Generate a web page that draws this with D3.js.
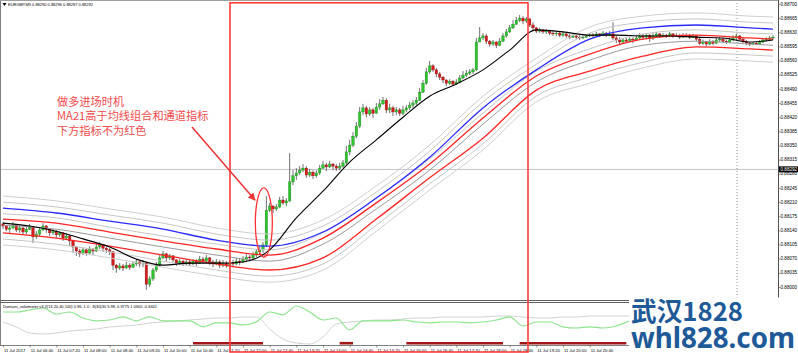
<!DOCTYPE html>
<html>
<head>
<meta charset="utf-8">
<script src="https://cdn.jsdelivr.net/npm/d3@7"></script>
<style>
  body { margin: 0; background: #fff; }
  svg { display: block; }
  .tiny { font-family: "Liberation Sans", Arial, sans-serif; fill: #000; }
</style>
</head>
<body>
<svg width="798" height="353"></svg>
<script>
// EURGBP M5, 232 bars; open of a bar = close of the bar before
var firstOpen = 0.88156;
var closes = [
0.88151,0.88143,0.88146,0.88153,0.88141,0.88146,0.88136,0.88143,0.88148,0.88124,
0.88131,0.88141,0.88151,0.88143,0.88134,0.88138,0.88129,0.88134,0.88121,0.88126,
0.88114,0.88099,0.88089,0.88082,0.88092,0.88084,0.88094,0.88089,0.88099,0.88104,
0.88096,0.88092,0.88087,0.88054,0.88047,0.88052,0.88047,0.88054,0.88049,0.88057,
0.88062,0.88057,0.88059,0.88007,0.88020,0.88042,0.88054,0.88072,0.88082,0.88072,
0.88077,0.88067,0.88059,0.88064,0.88057,0.88062,0.88057,0.88064,0.88059,0.88069,
0.88064,0.88072,0.88062,0.88057,0.88062,0.88054,0.88059,0.88054,0.88059,0.88057,
0.88064,0.88062,0.88069,0.88074,0.88072,0.88079,0.88087,0.88092,0.88104,0.88190,
0.88200,0.88193,0.88198,0.88215,0.88208,0.88213,0.88260,0.88275,0.88282,0.88289,
0.88294,0.88277,0.88284,0.88275,0.88282,0.88294,0.88302,0.88297,0.88304,0.88299,
0.88294,0.88299,0.88307,0.88334,0.88351,0.88373,0.88398,0.88433,0.88443,0.88428,
0.88438,0.88430,0.88445,0.88453,0.88462,0.88438,0.88443,0.88433,0.88438,0.88430,
0.88438,0.88443,0.88450,0.88455,0.88462,0.88482,0.88504,0.88532,0.88547,0.88537,
0.88527,0.88519,0.88512,0.88504,0.88509,0.88502,0.88507,0.88517,0.88524,0.88529,
0.88532,0.88537,0.88606,0.88616,0.88621,0.88608,0.88601,0.88606,0.88598,0.88608,
0.88621,0.88631,0.88641,0.88650,0.88660,0.88665,0.88658,0.88663,0.88648,0.88641,
0.88633,0.88636,0.88631,0.88633,0.88628,0.88626,0.88628,0.88623,0.88626,0.88621,
0.88618,0.88621,0.88618,0.88616,0.88618,0.88621,0.88623,0.88621,0.88626,0.88623,
0.88628,0.88623,0.88626,0.88616,0.88611,0.88606,0.88611,0.88608,0.88613,0.88611,
0.88616,0.88621,0.88618,0.88623,0.88616,0.88621,0.88626,0.88621,0.88623,0.88621,
0.88626,0.88621,0.88623,0.88618,0.88621,0.88623,0.88618,0.88621,0.88613,0.88603,
0.88606,0.88601,0.88608,0.88603,0.88611,0.88613,0.88608,0.88606,0.88611,0.88616,
0.88621,0.88613,0.88608,0.88603,0.88601,0.88603,0.88601,0.88606,0.88611,0.88613,
0.88616,0.88618];
var highs = [
0.88161,0.88153,0.88151,0.88161,0.88156,0.88151,0.88148,0.88151,0.88156,0.88151,
0.88138,0.88146,0.88158,0.88153,0.88146,0.88143,0.88141,0.88138,0.88136,0.88134,
0.88129,0.88116,0.88101,0.88094,0.88096,0.88094,0.88101,0.88096,0.88106,0.88111,
0.88106,0.88101,0.88096,0.88089,0.88057,0.88059,0.88057,0.88062,0.88059,0.88064,
0.88069,0.88064,0.88067,0.88062,0.88027,0.88047,0.88062,0.88079,0.88089,0.88084,
0.88082,0.88079,0.88069,0.88069,0.88067,0.88069,0.88067,0.88069,0.88069,0.88077,
0.88074,0.88079,0.88074,0.88067,0.88069,0.88067,0.88067,0.88064,0.88067,0.88067,
0.88072,0.88069,0.88077,0.88082,0.88079,0.88087,0.88094,0.88101,0.88111,0.88225,
0.88208,0.88203,0.88205,0.88223,0.88225,0.88220,0.88331,0.88289,0.88294,0.88299,
0.88304,0.88299,0.88292,0.88289,0.88289,0.88302,0.88312,0.88307,0.88312,0.88307,
0.88304,0.88307,0.88314,0.88349,0.88364,0.88383,0.88408,0.88445,0.88453,0.88448,
0.88445,0.88443,0.88455,0.88465,0.88470,0.88467,0.88453,0.88448,0.88445,0.88443,
0.88448,0.88450,0.88458,0.88462,0.88470,0.88492,0.88512,0.88542,0.88559,0.88551,
0.88542,0.88532,0.88522,0.88514,0.88514,0.88512,0.88514,0.88524,0.88534,0.88537,
0.88539,0.88542,0.88616,0.88643,0.88628,0.88626,0.88611,0.88611,0.88608,0.88616,
0.88628,0.88638,0.88648,0.88660,0.88668,0.88673,0.88670,0.88668,0.88665,0.88655,
0.88643,0.88641,0.88638,0.88638,0.88636,0.88633,0.88633,0.88631,0.88631,0.88628,
0.88626,0.88626,0.88623,0.88623,0.88623,0.88626,0.88628,0.88628,0.88631,0.88628,
0.88633,0.88631,0.88633,0.88655,0.88623,0.88618,0.88616,0.88616,0.88618,0.88618,
0.88623,0.88628,0.88626,0.88628,0.88626,0.88628,0.88631,0.88628,0.88628,0.88626,
0.88631,0.88628,0.88628,0.88626,0.88628,0.88628,0.88626,0.88626,0.88623,0.88618,
0.88611,0.88608,0.88613,0.88611,0.88616,0.88618,0.88616,0.88613,0.88618,0.88623,
0.88626,0.88623,0.88616,0.88611,0.88606,0.88606,0.88606,0.88611,0.88616,0.88618,
0.88621,0.88623];
var lows = [
0.88143,0.88138,0.88134,0.88143,0.88136,0.88134,0.88129,0.88131,0.88141,0.88109,
0.88119,0.88126,0.88138,0.88134,0.88126,0.88129,0.88121,0.88124,0.88114,0.88116,
0.88101,0.88084,0.88077,0.88074,0.88079,0.88077,0.88082,0.88079,0.88087,0.88094,
0.88087,0.88084,0.88079,0.88042,0.88035,0.88042,0.88040,0.88045,0.88042,0.88047,
0.88052,0.88049,0.88049,0.87993,0.88000,0.88015,0.88037,0.88049,0.88069,0.88064,
0.88067,0.88062,0.88052,0.88054,0.88052,0.88054,0.88052,0.88054,0.88052,0.88057,
0.88059,0.88062,0.88054,0.88049,0.88054,0.88047,0.88049,0.88047,0.88052,0.88049,
0.88054,0.88054,0.88059,0.88062,0.88064,0.88069,0.88074,0.88082,0.88084,0.88099,
0.88185,0.88183,0.88188,0.88195,0.88203,0.88200,0.88210,0.88252,0.88265,0.88277,
0.88284,0.88270,0.88272,0.88267,0.88270,0.88277,0.88292,0.88287,0.88294,0.88289,
0.88287,0.88289,0.88294,0.88302,0.88326,0.88346,0.88368,0.88393,0.88425,0.88420,
0.88423,0.88418,0.88428,0.88438,0.88450,0.88430,0.88430,0.88423,0.88425,0.88423,
0.88425,0.88433,0.88438,0.88443,0.88450,0.88460,0.88480,0.88500,0.88527,0.88532,
0.88519,0.88512,0.88504,0.88497,0.88500,0.88497,0.88500,0.88504,0.88514,0.88519,
0.88524,0.88527,0.88534,0.88606,0.88611,0.88601,0.88594,0.88596,0.88591,0.88596,
0.88606,0.88616,0.88628,0.88638,0.88648,0.88655,0.88650,0.88653,0.88643,0.88633,
0.88628,0.88628,0.88626,0.88626,0.88623,0.88621,0.88621,0.88618,0.88618,0.88616,
0.88613,0.88616,0.88613,0.88611,0.88613,0.88616,0.88618,0.88616,0.88618,0.88618,
0.88621,0.88618,0.88621,0.88611,0.88603,0.88598,0.88601,0.88603,0.88606,0.88603,
0.88608,0.88611,0.88611,0.88613,0.88606,0.88611,0.88616,0.88616,0.88618,0.88616,
0.88618,0.88616,0.88618,0.88613,0.88616,0.88618,0.88613,0.88616,0.88608,0.88598,
0.88598,0.88596,0.88598,0.88598,0.88601,0.88606,0.88603,0.88601,0.88603,0.88608,
0.88611,0.88608,0.88601,0.88598,0.88596,0.88598,0.88598,0.88598,0.88603,0.88606,
0.88608,0.88611];

// MA21 (black), read every 8 bars
var maBars = [0,8,16,24,32,40,48,56,64,72,80,88,96,104,112,120,128,136,144,152,160,168,176,184,192,200,208,216,224,231];
var ma21 = [0.88158,0.88151,0.88138,0.88119,0.88099,0.88069,0.88054,0.88059,0.88059,0.88062,0.88092,0.88171,0.88237,0.88309,0.88364,0.88420,0.88472,0.88502,0.88537,0.88586,0.88636,0.88631,0.88623,0.88623,0.88621,0.88621,0.88618,0.88616,0.88606,0.88611];

// channel lines, read every 16 bars
var bandBars = [0,16,32,48,64,80,96,112,128,144,160,176,192,208,224,231];
var blueLine = [0.88195,0.88183,0.88163,0.88143,0.88116,0.88101,0.88136,0.88220,0.88321,0.88443,0.88537,0.88613,0.88641,0.88648,0.88641,0.88638];
var redUpper = [0.88168,0.88158,0.88136,0.88114,0.88094,0.88079,0.88121,0.88208,0.88304,0.88418,0.88522,0.88576,0.88613,0.88623,0.88616,0.88613];
var redLower = [0.88134,0.88121,0.88101,0.88079,0.88057,0.88042,0.88072,0.88168,0.88270,0.88368,0.88487,0.88534,0.88571,0.88594,0.88589,0.88586];
var grayA = [0.88225,0.88213,0.88193,0.88173,0.88146,0.88131,0.88166,0.88250,0.88351,0.88472,0.88566,0.88643,0.88670,0.88678,0.88670,0.88668];
var grayB = [0.88210,0.88198,0.88178,0.88158,0.88131,0.88116,0.88151,0.88235,0.88336,0.88458,0.88551,0.88628,0.88655,0.88663,0.88655,0.88653];
var grayC = [0.88181,0.88171,0.88148,0.88126,0.88106,0.88092,0.88134,0.88220,0.88317,0.88430,0.88534,0.88589,0.88626,0.88636,0.88628,0.88626];
var grayMid = [0.88153,0.88143,0.88121,0.88099,0.88079,0.88064,0.88106,0.88193,0.88289,0.88403,0.88507,0.88561,0.88598,0.88608,0.88601,0.88598];
var grayE = [0.88119,0.88106,0.88087,0.88064,0.88042,0.88027,0.88057,0.88153,0.88255,0.88354,0.88472,0.88519,0.88556,0.88579,0.88574,0.88571];
var grayF = [0.88104,0.88092,0.88072,0.88049,0.88027,0.88012,0.88042,0.88138,0.88240,0.88339,0.88458,0.88504,0.88542,0.88564,0.88559,0.88556];

// lower window, read every 4 bars (+ last bar)
var volGreen = [1.25,1.25,1.30,1.35,1.20,1.25,1.10,1.03,1.05,1.13,1.03,1.13,1.03,1.03,1.03,0.88,0.98,0.98,0.93,1.00,1.25,1.18,1.40,1.25,1.05,1.10,0.80,1.03,1.03,1.03,1.05,1.00,0.98,1.00,1.00,0.98,1.00,1.05,1.13,0.90,1.00,1.00,0.88,0.85,0.88,0.85,0.90,1.03,1.13,1.20,1.25,1.23,1.28,1.23,1.25,1.20,1.25,1.23,1.25];
var volGray = [1.00,0.875,0.725,0.70,0.725,0.775,0.80,0.825,0.875,0.90,0.925,0.975,1.00,1.025,1.05,1.075,1.10,1.10,1.125,1.125,0.825,0.575,0.475,0.45,0.625,0.95,1.00,1.025,1.05,1.05,1.075,1.10,1.10,1.125,1.125,1.125,1.125,1.15,1.15,1.125,1.10,1.10,1.125,1.125,1.15,1.15,1.15,1.15,1.15,1.15,1.15,1.15,1.125,1.125,1.125,1.125,1.125,1.125,1.125];
var noTrade = [[57,78],[101,105],[121,150],[155,187]];

var priceTicks = [0.88700,0.88665,0.88630,0.88595,0.88560,0.88525,0.88490,0.88455,0.88420,0.88385,0.88350,0.88315,0.88280,0.88245,0.88210,0.88175,0.88140,0.88105,0.88070,0.88035,0.88000];
// labels every 8 bars; later ones are hidden by the watermark box
var timeLabels = ['11 Jul 2017','11 Jul 06:40','11 Jul 07:20','11 Jul 08:00','11 Jul 08:40','11 Jul 09:20','11 Jul 10:00','11 Jul 10:40','11 Jul 11:20','11 Jul 12:00','11 Jul 12:40','11 Jul 13:20','11 Jul 14:00','11 Jul 14:40','11 Jul 15:20','11 Jul 16:00','11 Jul 16:40','11 Jul 17:20','11 Jul 18:00','11 Jul 18:40','11 Jul 19:20','11 Jul 20:00','11 Jul 20:40'];
var bidPrice = 0.88292;
var noteLines = ['做多进场时机', 'MA21高于均线组合和通道指标', '下方指标不为红色'];

var svg = d3.select('svg');
var width = +svg.attr('width');
var height = +svg.attr('height');

var plotRight = 778, mainBottom = 300, subTop = 302, subBottom = 345;

var x = d3.scaleLinear().domain([0, 231]).range([3, 773]);
var y = d3.scaleLinear().domain([0.88000, 0.88700]).range([287, 4]);
var yv = d3.scaleLinear().domain([0.5, 1.5]).range([342, 302]);

svg.append('rect').attr('width', width).attr('height', height).attr('fill', '#fff');

var defs = svg.append('defs');
defs.append('clipPath').attr('id', 'mainClip').append('rect')
	.attr('x', 1).attr('y', 1).attr('width', plotRight - 1).attr('height', mainBottom - 1);
defs.append('clipPath').attr('id', 'subClip').append('rect')
	.attr('x', 1).attr('y', subTop).attr('width', plotRight - 1).attr('height', subBottom - subTop);
defs.append('marker').attr('id', 'arrowHead')
	.attr('viewBox', '0 0 10 10').attr('refX', 9).attr('refY', 5)
	.attr('markerWidth', 5).attr('markerHeight', 5).attr('orient', 'auto')
	.append('path').attr('d', 'M0,0 L10,5 L0,10 z').attr('fill', '#ee3333');

var main = svg.append('g').attr('clip-path', 'url(#mainClip)');

// bid line and period separator
main.append('line')
	.attr('x1', 0).attr('x2', plotRight)
	.attr('y1', y(bidPrice) + 0.5).attr('y2', y(bidPrice) + 0.5)
	.attr('stroke', '#c4c4c4').attr('stroke-width', 1);
main.append('line')
	.attr('x1', x(220.2)).attr('x2', x(220.2)).attr('y1', 0).attr('y2', mainBottom)
	.attr('stroke', '#8c8c8c').attr('stroke-dasharray', '1,2');

// candles
var bars = closes.map(function (c, i) {
	var o = i === 0 ? firstOpen : closes[i - 1];
	return { i: i, o: o, c: c, h: Math.max(highs[i], o, c), l: Math.min(lows[i], o, c) };
});

var candleG = main.append('g');
candleG.selectAll('.wick')
	.data(bars)
	.enter()
	.append('line')
	.attr('x1', function (d) { return x(d.i); })
	.attr('x2', function (d) { return x(d.i); })
	.attr('y1', function (d) { return y(d.h); })
	.attr('y2', function (d) { return y(d.l); })
	.attr('stroke', '#333')
	.attr('stroke-width', 0.7);

candleG.selectAll('.body')
	.data(bars)
	.enter()
	.append('rect')
	.attr('x', function (d) { return x(d.i) - 1.2; })
	.attr('width', 2.4)
	.attr('y', function (d) { return y(Math.max(d.o, d.c)); })
	.attr('height', function (d) { return Math.max(0.8, Math.abs(y(d.o) - y(d.c))); })
	.attr('fill', function (d) { return d.c >= d.o ? '#2ec42e' : '#d41a1a'; })
	.attr('stroke', function (d) { return d.c >= d.o ? '#1d8a1d' : '#961010'; })
	.attr('stroke-width', 0.4);

// indicator lines
function drawLine(g, idx, vals, scale, color, w) {
	var gen = d3.line()
		.x(function (d, k) { return x(idx[k]); })
		.y(function (d) { return scale(d); })
		.curve(d3.curveMonotoneX);
	g.append('path')
		.attr('d', gen(vals))
		.attr('fill', 'none')
		.attr('stroke', color)
		.attr('stroke-width', w);
}

drawLine(main, bandBars, grayA, y, '#cfcfcf', 1);
drawLine(main, bandBars, grayB, y, '#c6c6c6', 1);
drawLine(main, bandBars, grayC, y, '#c6c6c6', 1);
drawLine(main, bandBars, grayMid, y, '#9a9a9a', 1);
drawLine(main, bandBars, grayE, y, '#c6c6c6', 1);
drawLine(main, bandBars, grayF, y, '#cfcfcf', 1);
drawLine(main, bandBars, redLower, y, '#ff2424', 1.3);
drawLine(main, bandBars, redUpper, y, '#ff2424', 1.3);
drawLine(main, bandBars, blueLine, y, '#2a2aff', 1.3);
drawLine(main, maBars, ma21, y, '#000', 1.1);

// lower window
var volBars = d3.range(0, 229, 4).concat([231]);
var sub = svg.append('g').attr('clip-path', 'url(#subClip)');
drawLine(sub, volBars, volGray, yv, '#d2d2d2', 1);
drawLine(sub, volBars, volGreen, yv, '#8ce68c', 1.2);
sub.selectAll('.noTrade')
	.data(noTrade)
	.enter()
	.append('line')
	.attr('x1', function (d) { return x(d[0]); })
	.attr('x2', function (d) { return x(d[1]); })
	.attr('y1', subBottom - 1.8).attr('y2', subBottom - 1.8)
	.attr('stroke', '#a01818').attr('stroke-width', 2.6);

// frames
var frame = svg.append('g').attr('fill', 'none');
frame.append('line').attr('x1', 0.5).attr('x2', 0.5).attr('y1', 0).attr('y2', subBottom).attr('stroke', '#808080');
frame.append('line').attr('x1', 0).attr('x2', plotRight).attr('y1', 0.5).attr('y2', 0.5).attr('stroke', '#a0a0a0');
frame.append('line').attr('x1', 0).attr('x2', plotRight).attr('y1', mainBottom + 0.5).attr('y2', mainBottom + 0.5).attr('stroke', '#606060');
frame.append('line').attr('x1', 0).attr('x2', plotRight).attr('y1', subTop + 0.5).attr('y2', subTop + 0.5).attr('stroke', '#606060');
frame.append('line').attr('x1', 0).attr('x2', plotRight).attr('y1', subBottom + 0.5).attr('y2', subBottom + 0.5).attr('stroke', '#808080');
frame.append('line').attr('x1', plotRight + 0.5).attr('x2', plotRight + 0.5).attr('y1', 0).attr('y2', subBottom).attr('stroke', '#505050');

// price axis
var axisG = svg.append('g');
axisG.selectAll('.ptick')
	.data(priceTicks)
	.enter()
	.append('line')
	.attr('x1', plotRight).attr('x2', plotRight + 2.5)
	.attr('y1', function (d) { return y(d) + 0.5; })
	.attr('y2', function (d) { return y(d) + 0.5; })
	.attr('stroke', '#505050').attr('stroke-width', 0.6);
axisG.selectAll('.plabel')
	.data(priceTicks)
	.enter()
	.append('text')
	.attr('class', 'tiny')
	.attr('x', plotRight + 2.5)
	.attr('y', function (d) { return y(d) + 1.6; })
	.attr('font-size', '4.6px')
	.text(function (d) { return d3.format('.5f')(d); });

axisG.append('rect')
	.attr('x', plotRight + 1).attr('y', y(bidPrice) - 2.6)
	.attr('width', 19).attr('height', 6).attr('fill', '#000');
axisG.append('text')
	.attr('class', 'tiny')
	.attr('x', plotRight + 2.5).attr('y', y(bidPrice) + 2)
	.attr('font-size', '4.6px').style('fill', '#fff')
	.text(d3.format('.5f')(bidPrice));

// time axis
var timeG = svg.append('g');
timeG.selectAll('.ttick')
	.data(timeLabels)
	.enter()
	.append('line')
	.attr('x1', function (d, k) { return x(k * 8) + 0.5; })
	.attr('x2', function (d, k) { return x(k * 8) + 0.5; })
	.attr('y1', subBottom).attr('y2', subBottom + 2.5)
	.attr('stroke', '#505050').attr('stroke-width', 0.6);
timeG.selectAll('.tlabel')
	.data(timeLabels)
	.enter()
	.append('text')
	.attr('class', 'tiny')
	.attr('x', function (d, k) { return x(k * 8) + 1; })
	.attr('y', 351.5)
	.attr('font-size', '4.2px')
	.text(function (d) { return d; });

// window captions
svg.append('path').attr('d', 'M2.5,3 L6.5,3 L4.5,6 z').attr('fill', '#000');
svg.append('text').attr('class', 'tiny')
	.attr('x', 8).attr('y', 6.2).attr('font-size', '4.4px')
	.attr('textLength', 85).attr('lengthAdjust', 'spacingAndGlyphs')
	.text('EURGBP,M5  0.88290 0.88296 0.88287 0.88292');
svg.append('text').attr('class', 'tiny')
	.attr('x', 3).attr('y', 307.6).attr('font-size', '4.4px')
	.attr('textLength', 154).attr('lengthAdjust', 'spacingAndGlyphs')
	.text('Damiani_volatmeter v3.2(13,20,40,100) 0.96, 1.0 : 8(30)30 5.98, 0.9775 1.0300 -0.8441');

// annotations
var notes = svg.append('g');
notes.append('rect')
	.attr('x', x(68.1)).attr('y', y(0.88703))
	.attr('width', x(157.5) - x(68.1)).attr('height', height - 1 - y(0.88703))
	.attr('fill', 'none').attr('stroke', '#ff3b3b').attr('stroke-width', 1.6);
notes.append('ellipse')
	.attr('cx', (x(75.7) + x(80.8)) / 2).attr('cy', (y(0.88074) + y(0.88245)) / 2)
	.attr('rx', (x(80.8) - x(75.7)) / 2).attr('ry', (y(0.88074) - y(0.88245)) / 2)
	.attr('fill', 'none').attr('stroke', '#ff3030').attr('stroke-width', 1.3);
notes.append('line')
	.attr('x1', x(56.7)).attr('y1', y(0.88396))
	.attr('x2', x(75.6)).attr('y2', y(0.88215))
	.attr('stroke', '#ee3333').attr('stroke-width', 1.5)
	.attr('marker-end', 'url(#arrowHead)');
notes.selectAll('.note')
	.data(noteLines)
	.enter()
	.append('text')
	.attr('x', x(16.2))
	.attr('y', function (d, k) { return y(0.88448) + k * 14.6; })
	.attr('font-family', '"Noto Sans CJK SC", sans-serif')
	.attr('font-size', '11.2px')
	.attr('fill', '#f24b4b')
	.text(function (d) { return d; });

// watermark
var wm = svg.append('g');
wm.append('rect').attr('x', 629).attr('y', 297.5).attr('width', width - 629).attr('height', height - 297.5).attr('fill', '#fff');
wm.append('text')
	.attr('x', 631).attr('y', 321)
	.attr('font-family', '"Noto Sans CJK SC", sans-serif').attr('font-weight', 700)
	.attr('font-size', '26px').attr('fill', '#1f5a98')
	.attr('textLength', 112).attr('lengthAdjust', 'spacingAndGlyphs')
	.text('武汉1828');
wm.append('text')
	.attr('x', 631).attr('y', 348)
	.attr('font-family', '"Noto Sans", sans-serif').attr('font-weight', 700)
	.attr('font-size', '29px').attr('fill', '#1f5a98')
	.attr('textLength', 164).attr('lengthAdjust', 'spacingAndGlyphs')
	.text('whl828.com');
</script>
</body>
</html>
